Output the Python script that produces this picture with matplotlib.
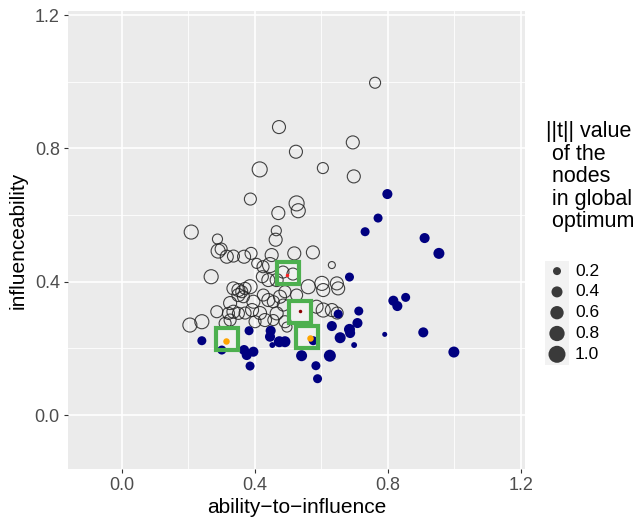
import matplotlib
matplotlib.use("Agg")
import matplotlib.pyplot as plt
import numpy as np

plt.rcParams['font.family'] = ['Liberation Sans', 'DejaVu Sans']

# nodes not in the optimum (open circles): ability-to-influence, influenceability, ||t||
open_x = [0.762, 0.473, 0.695, 0.524, 0.415, 0.605, 0.698, 0.387, 0.526, 0.531,
          0.471, 0.209, 0.465, 0.463, 0.288, 0.519, 0.575, 0.632, 0.290, 0.299,
          0.316, 0.336, 0.368, 0.389, 0.406, 0.446, 0.269, 0.423, 0.441, 0.336,
          0.351, 0.361, 0.371, 0.386, 0.351, 0.366, 0.396, 0.426, 0.441, 0.451,
          0.485, 0.515, 0.561, 0.602, 0.606, 0.647, 0.651, 0.466, 0.476, 0.491,
          0.456, 0.526, 0.466, 0.486, 0.456, 0.491, 0.497, 0.606, 0.632, 0.648,
          0.586, 0.205, 0.241, 0.286, 0.321, 0.336, 0.351, 0.311, 0.326, 0.371,
          0.392, 0.416, 0.401, 0.431, 0.326, 0.425]
open_y = [0.997, 0.864, 0.818, 0.790, 0.737, 0.741, 0.716, 0.648, 0.635, 0.613,
          0.606, 0.549, 0.553, 0.526, 0.528, 0.485, 0.488, 0.450, 0.492, 0.498,
          0.475, 0.477, 0.475, 0.485, 0.455, 0.450, 0.415, 0.415, 0.405, 0.380,
          0.375, 0.370, 0.380, 0.385, 0.360, 0.355, 0.340, 0.360, 0.345, 0.480,
          0.429, 0.423, 0.385, 0.395, 0.375, 0.395, 0.380, 0.405, 0.355, 0.370,
          0.340, 0.360, 0.305, 0.330, 0.285, 0.280, 0.264, 0.315, 0.315, 0.306,
          0.325, 0.270, 0.280, 0.310, 0.305, 0.310, 0.305, 0.275, 0.285, 0.306,
          0.315, 0.306, 0.280, 0.285, 0.336, 0.445]
open_t = [0.40, 0.57, 0.57, 0.57, 0.77, 0.40, 0.57, 0.48, 0.77, 0.67,
          0.57, 0.67, 0.33, 0.57, 0.33, 0.57, 0.57, 0.15, 0.67, 0.48,
          0.57, 0.48, 0.57, 0.48, 0.33, 0.77, 0.67, 0.48, 0.57, 0.57,
          0.57, 0.48, 0.48, 0.67, 0.57, 0.48, 0.57, 0.48, 0.57, 0.57,
          0.48, 0.48, 0.67, 0.67, 0.57, 0.57, 0.57, 0.57, 0.57, 0.48,
          0.48, 0.48, 0.57, 0.48, 0.40, 0.48, 0.33, 0.67, 0.57, 0.48,
          0.57, 0.67, 0.67, 0.48, 0.48, 0.57, 0.48, 0.48, 0.48, 0.48,
          0.57, 0.57, 0.48, 0.57, 0.57, 0.48]

# nodes in the global optimum (filled navy)
opt_x = [0.799, 0.771, 0.732, 0.911, 0.954, 0.685, 0.817, 0.829, 0.854, 0.713,
         0.709, 0.632, 0.685, 0.687, 0.657, 0.699, 0.791, 0.907, 0.999, 0.626,
         0.584, 0.589, 0.541, 0.651, 0.576, 0.241, 0.301, 0.383, 0.368, 0.376,
         0.396, 0.386, 0.448, 0.446, 0.474, 0.491, 0.453]
opt_y = [0.663, 0.591, 0.550, 0.531, 0.485, 0.414, 0.343, 0.327, 0.353, 0.312,
         0.276, 0.267, 0.257, 0.246, 0.232, 0.210, 0.242, 0.248, 0.189, 0.178,
         0.148, 0.109, 0.178, 0.303, 0.223, 0.223, 0.195, 0.253, 0.195, 0.180,
         0.190, 0.147, 0.253, 0.235, 0.220, 0.220, 0.210]
opt_t = [0.33, 0.26, 0.26, 0.33, 0.40, 0.26, 0.33, 0.33, 0.26, 0.26,
         0.33, 0.33, 0.40, 0.33, 0.40, 0.10, 0.07, 0.33, 0.40, 0.48,
         0.26, 0.26, 0.40, 0.26, 0.26, 0.26, 0.26, 0.26, 0.33, 0.33,
         0.33, 0.26, 0.33, 0.33, 0.40, 0.40, 0.10]

# highlighted nodes (green squares) and the dots inside them
box_x = [0.501, 0.536, 0.318, 0.558]
box_y = [0.425, 0.310, 0.227, 0.235]
dot_x = [0.498, 0.536, 0.314, 0.566]
dot_y = [0.420, 0.312, 0.222, 0.232]
dot_col = ['#FF2020', '#8B0000', '#FFA500', '#FFA500']
dot_size = [3.5, 3.5, 6.5, 6.5]

legend_t = [0.2, 0.4, 0.6, 0.8, 1.0]
legend_lab = ['0.2', '0.4', '0.6', '0.8', '1.0']
ticks = [0.0, 0.4, 0.8, 1.2]
minor = [0.2, 0.6, 1.0]


def diam_px(t):
    # ggplot area scale: diameter linear in sqrt(value)
    return 8 + (np.sqrt(np.asarray(t)) - np.sqrt(0.2)) / (1 - np.sqrt(0.2)) * 9


def s_of(t):
    return (diam_px(t) * 0.72) ** 2


fig = plt.figure(figsize=(6.44, 5.2), dpi=100)
ax = fig.add_axes([0.1051, 0.0977, 0.7099, 0.8813])
ax.set_facecolor('#EBEBEB')
lim = (-0.1625, 1.2125)
ax.set_xlim(lim)
ax.set_ylim(lim)
for v in minor:
    ax.axvline(v, color='white', lw=0.6, zorder=0)
    ax.axhline(v, color='white', lw=0.6, zorder=0)
for v in ticks:
    ax.axvline(v, color='white', lw=1.2, zorder=0)
    ax.axhline(v, color='white', lw=1.2, zorder=0)
for sp in ax.spines.values():
    sp.set_visible(False)

# light fill of highlight boxes
ax.plot(box_x, box_y, ls='none', marker='s', ms=15.5, mfc=(1, 1, 1, 0.35),
        mec='none', zorder=1)

ax.scatter(open_x, open_y, s=s_of(open_t), facecolors='none',
           edgecolors='#222222', linewidths=0.8, alpha=0.85, zorder=2)
ax.scatter(opt_x, opt_y, s=s_of(opt_t), c='#000080', edgecolors='none', zorder=3)

ax.plot(box_x, box_y, ls='none', marker='s', ms=15.5, mfc='none',
        mec='#4DB04F', mew=3.0, zorder=4)
for x, y, c, d in zip(dot_x, dot_y, dot_col, dot_size):
    ax.plot(x, y, marker='o', ms=d * 0.72, color=c, mec='none', zorder=5)

ax.set_xticks(ticks)
ax.set_yticks(ticks)
ax.set_xticklabels([f'{v:.1f}' for v in ticks])
ax.set_yticklabels([f'{v:.1f}' for v in ticks])
ax.tick_params(length=3.2, width=0.8, color='#333333', labelsize=13,
               labelcolor='#4D4D4D', pad=2.5)
ax.set_xlabel('ability\u2212to\u2212influence', fontsize=15, labelpad=3)
ax.set_ylabel('influenceability', fontsize=15, labelpad=5)

# legend, drawn in pixel coordinates of the figure
lax = fig.add_axes([0, 0, 1, 1], zorder=-1)
lax.set_xlim(0, 644)
lax.set_ylim(520, 0)
lax.axis('off')
lax.text(546, 121, '||t|| value\n of the\n nodes\n in global\n optimum',
         fontsize=15.5, va='top', ha='left', linespacing=1.1)
key_h = np.full(len(legend_t), 20.8)
y0 = 260.7
lax.add_patch(plt.Rectangle((545, y0), 24, key_h.sum(), color='#F2F2F2', lw=0))
cy = y0 + np.cumsum(key_h) - key_h / 2
lax.scatter([557] * len(legend_t), cy, s=s_of(legend_t), c='#3A3A3A',
            edgecolors='none')
for yy, lab in zip(cy, legend_lab):
    lax.text(575, yy, lab, fontsize=12.5, va='center', ha='left', color='black')

fig.savefig('out.png', dpi=100)
